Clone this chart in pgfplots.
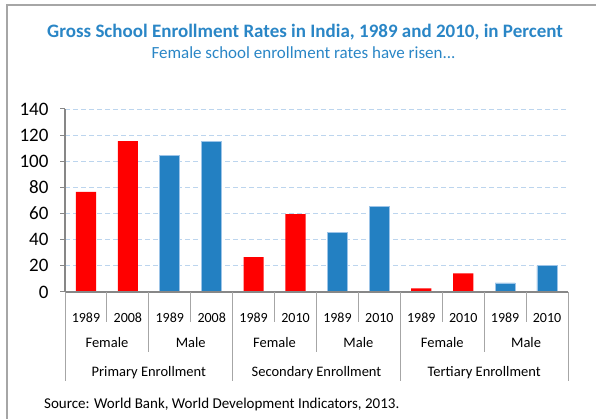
\documentclass[border=0pt]{standalone}
\usepackage{fontspec}
\setmainfont{Carlito}
\usepackage{pgfplots}
\pgfplotsset{compat=1.18}

\definecolor{titleblue}{HTML}{2A86C6}
\definecolor{barblue}{HTML}{2380C2}
\definecolor{baredge}{HTML}{9CC4E8}
\definecolor{gridblue}{HTML}{BCD5EE}
\definecolor{axisgray}{HTML}{878787}
\definecolor{sepgray}{HTML}{A6A6A6}

\begin{document}
\begin{tikzpicture}[x=1pt,y=1pt]
\useasboundingbox (0,0) rectangle (596,419);
% outer frame (cut off on the right and bottom)
\draw[sepgray, line width=1.3pt] (7,0) |- (596,414);

\node[font=\bfseries\fontsize{19}{21}\selectfont, text=titleblue, anchor=base]
  at (305,381.3) {Gross School Enrollment Rates in India, 1989 and 2010, in Percent};
\node[font=\fontsize{17}{19}\selectfont, text=titleblue, anchor=base]
  at (303.5,360.7) {Female school enrollment rates have risen...};
\node[font=\fontsize{15}{17}\selectfont, anchor=base west, inner sep=0pt]
  at (44,10) {Source: World Bank, World Development Indicators, 2013.};

\begin{axis}[
    at={(65pt,127pt)}, anchor=south west,
    scale only axis,
    width=503pt, height=183pt,
    xmin=0, xmax=12, ymin=0, ymax=140,
    axis x line*=bottom, axis y line*=left,
    axis line style={axisgray, line width=1.2pt, -},
    ytick={0,20,...,140},
    ymajorgrids,
    grid style={gridblue, line width=0.9pt, dash pattern=on 5pt off 3pt},
    tick align=outside, major tick length=5pt,
    ytick style={axisgray, line width=1pt},
    yticklabel style={font=\fontsize{19}{19}\selectfont, xshift=-8pt},
    xtick={0.5,1.5,...,11.5},
    xticklabels={1989,2008,1989,2008,1989,2010,1989,2010,1989,2010,1989,2010},
    xtick style={draw=none},
    xticklabel style={font=\fontsize{14}{16}\selectfont, anchor=base, yshift=-25.3pt},
    /pgf/number format/assume math mode=true,
    clip=false,
    ybar, bar width=0.48, bar shift=0pt,
]
% female
\addplot[fill=red, draw=none] coordinates {
    (0.5,76.5) (1.5,115.5) (4.5,26.6) (5.5,59.5) (8.5,2.8) (9.5,14.3)};
% male
\addplot[fill=barblue, draw=baredge, line width=0.8pt] coordinates {
    (2.5,104.7) (3.5,115.5) (6.5,45.5) (7.5,65.7) (10.5,6.9) (11.5,20.2)};

\draw[axisgray, line width=1.2pt] (axis cs:0,0) -- (axis cs:12,0);

% category separators
\pgfplotsinvokeforeach{0,...,12}{
  \draw[sepgray, line width=1pt] (axis cs:#1,0) -- ++(0pt,-30pt);}
\pgfplotsinvokeforeach{0,2,...,12}{
  \draw[sepgray, line width=1pt] (axis cs:#1,0) ++(0pt,-30pt) -- ++(0pt,-30pt);}
\pgfplotsinvokeforeach{0,4,8,12}{
  \draw[sepgray, line width=1pt] (axis cs:#1,0) ++(0pt,-60pt) -- ++(0pt,-29pt);}

\pgfplotsinvokeforeach{1,5,9}{
  \node[font=\fontsize{14.5}{16}\selectfont, anchor=base, yshift=-55.7pt] at (axis cs:#1,0) {Female};}
\pgfplotsinvokeforeach{3,7,11}{
  \node[font=\fontsize{14.5}{16}\selectfont, anchor=base, yshift=-55.7pt] at (axis cs:#1,0) {Male};}

\node[font=\fontsize{14.5}{16}\selectfont, anchor=base, yshift=-84.7pt] at (axis cs:2,0) {Primary Enrollment};
\node[font=\fontsize{14.5}{16}\selectfont, anchor=base, yshift=-84.7pt] at (axis cs:6,0) {Secondary Enrollment};
\node[font=\fontsize{14.5}{16}\selectfont, anchor=base, yshift=-84.7pt] at (axis cs:10,0) {Tertiary Enrollment};
\end{axis}
\end{tikzpicture}
\end{document}
